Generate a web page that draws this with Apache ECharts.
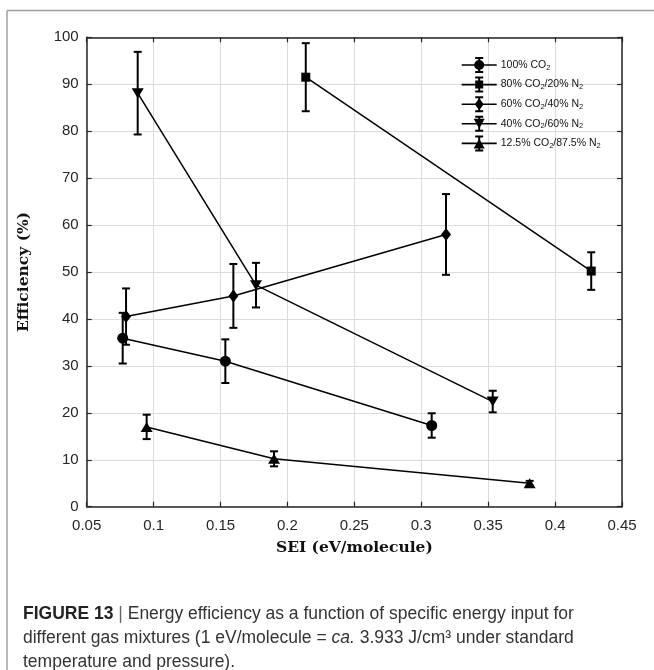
<!DOCTYPE html>
<html>
<head>
<meta charset="utf-8">
<script src="https://cdn.jsdelivr.net/npm/echarts@6/dist/echarts.min.js"></script>
<style>
  html, body { margin: 0; padding: 0; background: #fff; }
  #chart { width: 654px; height: 670px; }
</style>
</head>
<body>
<div id="chart"></div>
<script>
// data: SEI (eV/molecule), efficiency (%), error (+/- %)
const sei100 = [0.0769, 0.1536, 0.3078];
const eff100 = [35.9, 31.0, 17.3];
const err100 = [5.4, 4.65, 2.6];

const sei80 = [0.2137, 0.427];
const eff80 = [91.5, 50.2];
const err80 = [7.25, 4.0];

const sei60 = [0.0794, 0.1596, 0.3185];
const eff60 = [40.5, 44.9, 58.0];
const err60 = [6.0, 6.8, 8.6];

const sei40 = [0.0881, 0.1765, 0.3534];
const eff40 = [88.1, 47.2, 22.4];
const err40 = [8.8, 4.75, 2.3];

const sei12 = [0.0948, 0.190, 0.381];
const eff12 = [17.0, 10.2, 5.0];
const err12 = [2.6, 1.6, 0.5];

const names = ['100% CO2', '80% CO2/20% N2', '60% CO2/40% N2', '40% CO2/60% N2', '12.5% CO2/87.5% N2'];
// legend labels with subscripts
const legendLabels = [
  '100% CO{s|2}',
  '80% CO{s|2}/20% N{s|2}',
  '60% CO{s|2}/40% N{s|2}',
  '40% CO{s|2}/60% N{s|2}',
  '12.5% CO{s|2}/87.5% N{s|2}'
];

const groups = [
  { x: sei100, y: eff100, e: err100, symbol: 'circle', size: 11, rotate: 0 },
  { x: sei80, y: eff80, e: err80, symbol: 'rect', size: 9, rotate: 0 },
  { x: sei60, y: eff60, e: err60, symbol: 'diamond', size: [10, 13], rotate: 0 },
  { x: sei40, y: eff40, e: err40, symbol: 'triangle', size: [12, 10], rotate: 180 },
  { x: sei12, y: eff12, e: err12, symbol: 'triangle', size: [12, 10], rotate: 0 }
];

// legend icons: line + error bar + marker, drawn in a 35x16 box
const base = 'M0 7.2L35 7.2L35 8.8L0 8.8Z' +
  'M16.5 0L18.5 0L18.5 16L16.5 16Z' +
  'M13.5 0L21.5 0L21.5 2L13.5 2Z' +
  'M13.5 14L21.5 14L21.5 16L13.5 16Z';
const iconMarks = [
  'M12.5 8A5 5 0 1 1 22.5 8A5 5 0 1 1 12.5 8Z',
  'M13.5 4L21.5 4L21.5 12L13.5 12Z',
  'M17.5 2L22 8L17.5 14L13 8Z',
  'M12 3L23 3L17.5 13Z',
  'M17.5 3L23 13L12 13Z'
];

const chart = echarts.init(document.getElementById('chart'));

const axisFont = { fontFamily: 'Liberation Sans', fontSize: 15, color: '#262626' };
const titleFont = { fontFamily: 'DejaVu Serif', fontWeight: 'bold', fontSize: 15.5, color: '#111' };
const lineCol = '#262626';

const series = [];
groups.forEach(function (g, i) {
  series.push({
    name: names[i],
    type: 'custom',
    silent: true,
    z: 3,
    data: g.x.map(function (v, k) { return [v, g.y[k], g.e[k]]; }),
    renderItem: function (params, api) {
      const x = api.value(0), y = api.value(1), e = api.value(2);
      const top = api.coord([x, y + e]);
      const bot = api.coord([x, y - e]);
      const hw = 4;
      const st = { stroke: '#000', lineWidth: 2 };
      return {
        type: 'group',
        children: [
          { type: 'line', shape: { x1: top[0], y1: top[1], x2: bot[0], y2: bot[1] }, style: st },
          { type: 'line', shape: { x1: top[0] - hw, y1: top[1], x2: top[0] + hw, y2: top[1] }, style: st },
          { type: 'line', shape: { x1: bot[0] - hw, y1: bot[1], x2: bot[0] + hw, y2: bot[1] }, style: st }
        ]
      };
    }
  });
  series.push({
    name: names[i],
    type: 'line',
    z: 4,
    data: g.x.map(function (v, k) { return [v, g.y[k]]; }),
    symbol: g.symbol,
    symbolSize: g.size,
    symbolRotate: g.rotate,
    itemStyle: { color: '#000' },
    lineStyle: { color: '#000', width: 1.5 },
    animation: false
  });
});

const option = {
  animation: false,
  backgroundColor: '#fff',
  grid: { left: 86.7, right: 32, top: 37.3, bottom: 163.3 },
  legend: {
    orient: 'vertical',
    left: 456.7,
    top: 52,
    itemWidth: 35,
    itemHeight: 16,
    itemGap: 3.6,
    data: names.map(function (n, i) {
      return { name: n, icon: 'path://' + base + iconMarks[i] };
    }),
    itemStyle: { color: '#000', borderWidth: 0 },
    formatter: function (n) { return legendLabels[names.indexOf(n)]; },
    textStyle: {
      fontFamily: 'Liberation Sans', fontSize: 10.5, color: '#111', padding: [0, 0, 0, -1],
      rich: { s: { fontFamily: 'Liberation Sans', fontSize: 7.5, color: '#111', verticalAlign: 'bottom', padding: [5, 0, 0, 0] } }
    },
    selectedMode: false
  },
  xAxis: [{
    type: 'value', min: 0.05, max: 0.45, interval: 0.05,
    name: 'SEI (eV/molecule)', nameLocation: 'middle', nameGap: 33,
    nameTextStyle: titleFont,
    axisLine: { lineStyle: { color: lineCol, width: 1.5 } },
    axisTick: { inside: true, length: 5, lineStyle: { color: lineCol, width: 1.2 } },
    axisLabel: Object.assign({ margin: 12, formatter: function (v) { return String(+v.toFixed(2)); } }, axisFont),
    splitLine: { lineStyle: { color: '#dcdcdc', width: 1 } }
  }, {
    type: 'value', position: 'top', min: 0.05, max: 0.45, interval: 0.05,
    axisLine: { onZero: false, lineStyle: { color: lineCol, width: 1.5 } },
    axisTick: { inside: true, length: 5, lineStyle: { color: lineCol, width: 1.2 } },
    axisLabel: { show: false }, splitLine: { show: false }
  }],
  yAxis: [{
    type: 'value', min: 0, max: 100, interval: 10,
    name: 'Efficiency (%)', nameLocation: 'middle', nameGap: 55,
    nameTextStyle: titleFont,
    axisLine: { show: true, lineStyle: { color: lineCol, width: 1.5 } },
    axisTick: { show: true, inside: true, length: 5, lineStyle: { color: lineCol, width: 1.2 } },
    axisLabel: Object.assign({ margin: 8 }, axisFont),
    splitLine: { lineStyle: { color: '#dcdcdc', width: 1 } }
  }, {
    type: 'value', position: 'right', min: 0, max: 100, interval: 10,
    axisLine: { show: true, onZero: false, lineStyle: { color: lineCol, width: 1.5 } },
    axisTick: { show: true, inside: true, length: 5, lineStyle: { color: lineCol, width: 1.2 } },
    axisLabel: { show: false }, splitLine: { show: false }
  }],
  graphic: [
    { type: 'line', shape: { x1: 7, y1: 10.5, x2: 654, y2: 10.5 }, style: { stroke: '#a0a0a0', lineWidth: 1.5 } },
    { type: 'line', shape: { x1: 7, y1: 10.5, x2: 7, y2: 670 }, style: { stroke: '#a0a0a0', lineWidth: 1.5 } },
    {
      type: 'text', left: 23, top: 602,
      style: {
        text: '{b|FIGURE 13} {p||} Energy efficiency as a function of specific energy input for\n' +
              'different gas mixtures (1 eV/molecule = {i|ca.} 3.933 J/cm³ under standard\n' +
              'temperature and pressure).',
        fontFamily: 'Liberation Sans', fontSize: 17.5, lineHeight: 24, fill: '#333',
        rich: {
          b: { fontFamily: 'Liberation Sans', fontWeight: 'bold', fontSize: 17.5, fill: '#222', lineHeight: 24 },
          p: { fontFamily: 'Liberation Sans', fontSize: 17.5, fill: '#666', lineHeight: 24 },
          i: { fontFamily: 'Liberation Sans', fontStyle: 'italic', fontSize: 17.5, fill: '#333', lineHeight: 24 }
        }
      }
    }
  ],
  series: series
};

chart.setOption(option);
</script>
</body>
</html>
